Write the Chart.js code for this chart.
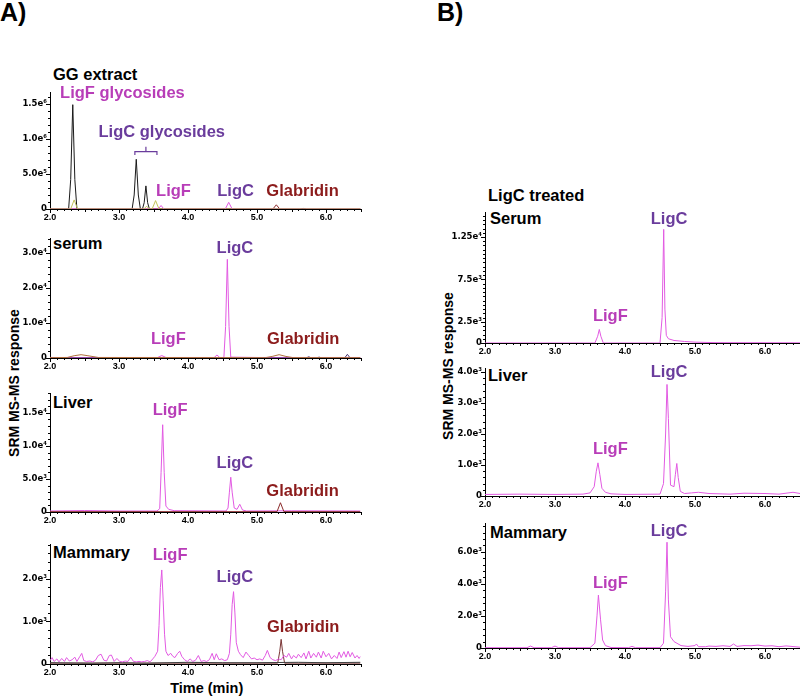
<!DOCTYPE html>
<html><head><meta charset="utf-8">
<script src="https://cdn.jsdelivr.net/npm/chart.js@4.4.1/dist/chart.umd.min.js"></script>
<style>
html,body{margin:0;padding:0;background:#fff;}
#wrap{position:relative;width:800px;height:696px;overflow:hidden;font-family:"Liberation Sans",Arial,sans-serif;}
canvas{position:absolute;}
.t{position:absolute;font-weight:bold;white-space:nowrap;line-height:1;transform:translateY(-50%);color:#000;font-size:16.5px;}
.rot{position:absolute;font-weight:bold;white-space:nowrap;line-height:1;transform:translate(-50%,-50%) rotate(-90deg);font-size:14px;}
.c{position:absolute;font-weight:bold;white-space:nowrap;line-height:1;transform:translate(-50%,-50%);font-size:14.5px;}
</style></head><body>
<div id="wrap">
  <div class="t" style="left:0px;top:12px;font-size:25px;">A)</div>
  <div class="t" style="left:437px;top:12px;font-size:25px;">B)</div>
  <div class="t" style="left:53px;top:74px;">GG extract</div>
  <div class="t" style="left:53px;top:243px;">serum</div>
  <div class="t" style="left:53px;top:401.5px;">Liver</div>
  <div class="t" style="left:53px;top:551.5px;">Mammary</div>
  <div class="t" style="left:488px;top:195px;">LigC treated</div>
  <div class="t" style="left:490px;top:218px;">Serum</div>
  <div class="t" style="left:488px;top:375px;">Liver</div>
  <div class="t" style="left:490px;top:531.5px;">Mammary</div>
  <div class="rot" style="left:14px;top:383px;">SRM MS-MS response</div>
  <div class="rot" style="left:448px;top:366px;">SRM MS-MS response</div>
  <div class="c" style="left:206.7px;top:688px;">Time (min)</div>
  <canvas id="a1"></canvas><canvas id="a2"></canvas><canvas id="a3"></canvas><canvas id="a4"></canvas>
  <canvas id="b1"></canvas><canvas id="b2"></canvas><canvas id="b3"></canvas>
</div>
<script>
// ---------- x axis ----------
const xTickValues = [2, 3, 4, 5, 6];

// ---------- A1: GG extract ----------
const a1BlackT = [2.00, 2.27, 2.30, 2.33, 2.36, 2.39, 3.19, 3.22, 3.25, 3.28, 3.31, 3.34, 3.365, 3.39, 3.415, 3.44, 5.62, 5.67, 5.72, 6.50];
const a1BlackV = [0, 0, 420000, 1490000, 420000, 0, 0, 200000, 710000, 200000, 0, 0, 90000, 330000, 90000, 0, 0, 8000, 0, 0];
const a1OliveT = [2.00, 2.30, 2.35, 2.40, 3.36, 3.40, 3.44, 3.48, 3.53, 3.58, 6.50];
const a1OliveV = [0, 0, 130000, 0, 0, 40000, 0, 0, 120000, 0, 0];
const a1MagT = [2.00, 3.57, 3.61, 3.65, 4.54, 4.59, 4.64, 6.50];
const a1MagV = [0, 0, 50000, 0, 0, 95000, 0, 0];
const a1RedT = [2.00, 5.23, 5.28, 5.33, 6.50];
const a1RedV = [0, 0, 60000, 0, 0];
const a1YTicks = [0, 500000, 1000000, 1500000];
const a1YLabels = ['0', '5.0e\u2075', '1.0e\u2076', '1.5e\u2076'];

// ---------- A2: serum ----------
const a2MagT = [2.00, 3.00, 3.56, 3.62, 3.68, 4.38, 4.42, 4.46, 4.52, 4.545, 4.57, 4.595, 4.62, 5.00, 6.50];
const a2MagV = [150, 150, 150, 700, 150, 150, 860, 150, 150, 9000, 28200, 9000, 250, 150, 150];
const a2BrownT = [2.00, 2.25, 2.35, 2.45, 2.55, 2.70, 5.12, 5.22, 5.32, 5.42, 5.52, 6.50];
const a2BrownV = [100, 150, 650, 950, 650, 150, 100, 450, 950, 450, 120, 100];
const a2PurpT = [2.00, 5.71, 5.75, 5.79, 5.86, 5.90, 5.94, 6.27, 6.31, 6.35, 6.50];
const a2PurpV = [0, 0, 350, 0, 0, 250, 0, 0, 1050, 0, 0];
const a2YTicks = [0, 10000, 20000, 30000];
const a2YLabels = ['0', '1.0e\u2074', '2.0e\u2074', '3.0e\u2074'];

// ---------- A3: Liver ----------
const a3MagT = [2.00, 2.50, 3.00, 3.55, 3.59, 3.61, 3.633, 3.655, 3.68, 3.72, 3.80, 4.55, 4.58, 4.60, 4.62, 4.64, 4.67, 4.71, 4.75, 4.79, 4.85, 5.50, 6.50];
const a3MagV = [150, 220, 150, 150, 500, 6000, 13200, 6000, 900, 400, 200, 150, 600, 3000, 5260, 3000, 600, 400, 1170, 300, 150, 180, 150];
const a3RedT = [2.00, 5.29, 5.34, 5.39, 6.50];
const a3RedV = [50, 50, 1400, 50, 50];
const a3YTicks = [0, 5000, 10000, 15000];
const a3YLabels = ['0', '5.0e\u00b3', '1.0e\u2074', '1.5e\u2074'];

// ---------- A4: Mammary ----------
const a4MagT = [2.00,2.03,2.06,2.10,2.13,2.17,2.21,2.24,2.28,2.32,2.36,2.39,2.43,2.46,2.49,2.53,2.58,2.62,2.66,2.70,2.74,2.78,2.82,2.86,2.89,2.93,2.97,3.01,3.05,3.09,3.13,3.17,3.21,3.25,3.29,3.33,3.37,3.41,3.45,3.49,3.52,3.56,3.58,3.60,3.62,3.64,3.66,3.68,3.71,3.75,3.78,3.81,3.85,3.88,3.91,3.95,3.99,4.03,4.07,4.11,4.15,4.19,4.23,4.27,4.31,4.35,4.38,4.41,4.45,4.49,4.53,4.57,4.60,4.62,4.64,4.66,4.68,4.70,4.73,4.76,4.80,4.84,4.88,4.92,4.96,5.00,5.04,5.08,5.12,5.15,5.19,5.23,5.27,5.31,5.35,5.39,5.43,5.46,5.50,5.53,5.57,5.60,5.64,5.68,5.71,5.75,5.78,5.82,5.86,5.89,5.93,5.96,6.00,6.04,6.08,6.12,6.16,6.19,6.22,6.26,6.29,6.32,6.35,6.38,6.42,6.45,6.48,6.50];
const a4MagV = [80,150,60,120,50,130,60,150,70,100,160,60,170,250,80,60,70,50,90,200,230,90,70,200,210,60,130,60,50,70,60,160,60,50,60,50,60,80,50,120,180,300,900,1800,2210,1500,700,300,200,250,180,150,250,300,180,100,60,120,60,90,200,60,80,60,100,250,100,240,100,120,80,100,250,700,1400,1700,1200,500,300,220,150,280,200,120,140,100,120,90,200,320,150,100,80,120,100,200,160,250,120,200,140,230,150,260,120,300,140,250,160,280,140,300,170,250,120,200,130,280,150,290,160,300,170,270,140,200,130,180];
const a4RedT = [2.00, 5.30, 5.33, 5.35, 5.37, 5.40, 6.50];
const a4RedV = [20, 20, 300, 580, 300, 20, 20];
const a4BlackT = [2.00, 2.60, 3.00, 3.40, 4.00, 4.50, 5.00, 5.60, 6.00, 6.50];
const a4BlackV = [30, 20, 30, 20, 40, 30, 30, 40, 30, 40];
const a4YTicks = [0, 1000, 2000];
const a4YLabels = ['0', '1.0e\u00b3', '2.0e\u00b3'];

// ---------- B1: LigC treated, Serum ----------
const b1MagT = [2.00, 3.57, 3.61, 3.633, 3.655, 3.69, 4.50, 4.53, 4.553, 4.57, 4.59, 4.62, 4.70, 4.85, 5.00, 5.30, 6.50];
const b1MagV = [0, 0, 800, 1600, 800, 0, 0, 3000, 13400, 4000, 900, 500, 300, 180, 100, 40, 20];
const b1YTicks = [0, 2500, 7500, 12500];
const b1YLabels = ['0', '2.5e\u00b3', '7.5e\u00b3', '1.25e\u2074'];

// ---------- B2: Liver ----------
const b2MagT = [2.00, 2.50, 3.00, 3.40, 3.50, 3.56, 3.59, 3.614, 3.64, 3.67, 3.72, 3.80, 4.00, 4.50, 4.55, 4.58, 4.60, 4.62, 4.65, 4.70, 4.72, 4.74, 4.76, 4.79, 4.85, 4.95, 5.05, 5.20, 5.50, 5.70, 6.00, 6.20, 6.40, 6.50];
const b2MagV = [50, 60, 50, 60, 100, 300, 800, 1070, 700, 250, 120, 70, 50, 60, 400, 2000, 3600, 2500, 350, 300, 700, 1050, 600, 150, 80, 100, 120, 80, 60, 90, 80, 60, 120, 80];
const b2YTicks = [0, 1000, 2000, 3000, 4000];
const b2YLabels = ['0', '1.0e\u00b3', '2.0e\u00b3', '3.0e\u00b3', '4.0e\u00b3'];

// ---------- B3: Mammary ----------
const b3MagT = [2.00, 2.60, 2.65, 2.70, 2.95, 3.00, 3.05, 3.50, 3.57, 3.60, 3.62, 3.65, 3.68, 3.72, 3.80, 4.05, 4.10, 4.15, 4.50, 4.55, 4.58, 4.60, 4.62, 4.65, 4.70, 4.80, 4.90, 5.00, 5.02, 5.05, 5.15, 5.20, 5.30, 5.40, 5.50, 5.55, 5.60, 5.70, 5.80, 5.90, 6.00, 6.10, 6.20, 6.30, 6.50];
const b3MagV = [20, 20, 120, 20, 20, 120, 20, 20, 300, 2000, 3300, 1800, 500, 150, 30, 20, 100, 20, 20, 300, 3500, 6600, 3000, 700, 400, 150, 100, 150, 250, 80, 80, 120, 100, 140, 100, 250, 100, 150, 140, 180, 120, 140, 80, 130, 50];
const b3YTicks = [0, 2000, 4000, 6000];
const b3YLabels = ['0', '2.0e\u00b3', '4.0e\u00b3', '6.0e\u00b3'];

// ---------- styles ----------
const FONT = '"Liberation Sans", Arial, sans-serif';
const TICKFONT = '"DejaVu Sans", "Liberation Sans", Arial, sans-serif';
const C_MAG = '#e25ae2', C_BLACK = '#1a1a1a', C_OLIVE = '#c2c25a', C_RED = '#8b2a2a', C_BROWN = '#b0703c', C_PURP = '#4a3470';
const L_F = '#b83db8', L_C = '#6a3c9c', L_G = '#8c1c1c';

const pts = (t, v) => t.map((x, i) => ({x: x, y: v[i]}));
const ds = (t, v, c) => ({data: pts(t, v), borderColor: c, borderWidth: 1, pointRadius: 0, fill: false, tension: 0});

const decor = {
  id: 'decor',
  afterDraw(chart, args, o) {
    const {ctx, chartArea: a, scales: {x, y}} = chart;
    ctx.save();
    ctx.strokeStyle = '#000'; ctx.lineWidth = 1;
    ctx.beginPath();
    for (let i = 0; i <= 45; i++) {
      const px = Math.round(x.getPixelForValue(2 + i * 0.1)) + 0.5;
      const len = (i % 10 === 0) ? 4 : (i % 5 === 0 ? 3 : 2);
      ctx.moveTo(px, a.bottom); ctx.lineTo(px, a.bottom + len);
    }
    for (let k = 0; k * o.yMinor <= y.max + 1e-6; k++) {
      const v = k * o.yMinor;
      const py = Math.round(y.getPixelForValue(v)) + 0.5;
      const major = o.yTicks.some(t => Math.abs(t - v) < 1e-6);
      ctx.moveTo(a.left, py); ctx.lineTo(a.left - (major ? 4 : 2), py);
    }
    ctx.stroke();
    if (o.bracket) {
      const b = o.bracket;
      ctx.strokeStyle = b.color; ctx.lineWidth = 1.2;
      const x1 = x.getPixelForValue(b.x1), x2 = x.getPixelForValue(b.x2), xm = x.getPixelForValue(b.xm);
      const yb = y.getPixelForValue(b.y), yd = y.getPixelForValue(b.drop), yt = y.getPixelForValue(b.top);
      ctx.beginPath();
      ctx.moveTo(x1, yd); ctx.lineTo(x1, yb); ctx.lineTo(x2, yb); ctx.lineTo(x2, yd);
      ctx.moveTo(xm, yb); ctx.lineTo(xm, yt);
      ctx.stroke();
    }
    ctx.font = 'bold 16.5px ' + FONT;
    ctx.textAlign = 'center'; ctx.textBaseline = 'middle';
    for (const l of o.labels) {
      ctx.fillStyle = l.color;
      ctx.fillText(l.text, x.getPixelForValue(l.x), y.getPixelForValue(l.y));
    }
    ctx.restore();
  }
};

function panel(id, g, datasets, yMax, yTicks, yLabels, yMinor, labels, bracket) {
  const cv = document.getElementById(id);
  const padTop = 24, xH = 22;
  const w = g.right - g.canvasLeft + g.padRight;
  const h = padTop + (g.bottom - g.top) + xH;
  cv.width = w; cv.height = h;
  cv.style.left = g.canvasLeft + 'px'; cv.style.top = (g.top - padTop) + 'px';
  cv.style.width = w + 'px'; cv.style.height = h + 'px';
  new Chart(cv, {
    type: 'line',
    data: {datasets: datasets},
    options: {
      responsive: false, animation: false, devicePixelRatio: 1,
      layout: {padding: {top: padTop, right: g.padRight, bottom: 0, left: 0}},
      plugins: {legend: {display: false}, tooltip: {enabled: false},
        decor: {yTicks: yTicks, yMinor: yMinor, labels: labels, bracket: bracket}},
      scales: {
        x: {type: 'linear', min: 2, max: 6.5,
          afterBuildTicks: s => { s.ticks = xTickValues.map(v => ({value: v})); },
          afterFit: s => { s.height = xH; },
          grid: {display: false, drawTicks: false},
          border: {display: true, color: '#000', width: 1},
          ticks: {autoSkip: false, maxRotation: 0, padding: 3.5, color: '#000',
            font: {family: FONT, size: 9, weight: 'bold'},
            callback: v => Number(v).toFixed(1)}},
        y: {type: 'linear', min: 0, max: yMax,
          afterBuildTicks: s => { s.ticks = yTicks.map(v => ({value: v})); },
          afterFit: s => { s.width = g.left - g.canvasLeft; },
          grid: {display: false, drawTicks: false},
          border: {display: true, color: '#000', width: 1},
          ticks: {autoSkip: false, padding: 3, color: '#000',
            font: {family: TICKFONT, size: 8.5, weight: 'bold'},
            callback: v => yLabels[yTicks.indexOf(v)]}}
      }
    },
    plugins: [decor]
  });
}

const GA = {canvasLeft: 0, left: 50, right: 360.5, padRight: 9.5};
const GB = {canvasLeft: 420, left: 485, right: 800, padRight: 0};

panel('a1', Object.assign({top: 92, bottom: 209}, GA),
  [ds(a1OliveT, a1OliveV, C_OLIVE), ds(a1MagT, a1MagV, C_MAG), ds(a1RedT, a1RedV, C_RED), ds(a1BlackT, a1BlackV, C_BLACK)],
  1671000, a1YTicks, a1YLabels, 100000,
  [{text: 'LigF glycosides', x: 3.05, y: 1650000, color: L_F},
   {text: 'LigC glycosides', x: 3.62, y: 1100000, color: L_C},
   {text: 'LigF', x: 3.79, y: 257000, color: L_F},
   {text: 'LigC', x: 4.69, y: 257000, color: L_C},
   {text: 'Glabridin', x: 5.66, y: 257000, color: L_G}],
  {x1: 3.23, x2: 3.55, xm: 3.39, y: 820000, drop: 770000, top: 890000, color: L_C});

panel('a2', Object.assign({top: 238, bottom: 358}, GA),
  [ds(a2BrownT, a2BrownV, C_BROWN), ds(a2PurpT, a2PurpV, C_PURP), ds(a2MagT, a2MagV, C_MAG)],
  34300, a2YTicks, a2YLabels, 2000,
  [{text: 'LigC', x: 4.68, y: 31300, color: L_C},
   {text: 'LigF', x: 3.715, y: 5400, color: L_F},
   {text: 'Glabridin', x: 5.67, y: 5400, color: L_G}]);

panel('a3', Object.assign({top: 393, bottom: 512}, GA),
  [ds(a3RedT, a3RedV, C_RED), ds(a3MagT, a3MagV, C_MAG)],
  18000, a3YTicks, a3YLabels, 1000,
  [{text: 'LigF', x: 3.74, y: 15350, color: L_F},
   {text: 'LigC', x: 4.68, y: 7400, color: L_C},
   {text: 'Glabridin', x: 5.66, y: 3100, color: L_G}]);

panel('a4', Object.assign({top: 544, bottom: 664}, GA),
  [ds(a4MagT, a4MagV, C_MAG), ds(a4BlackT, a4BlackV, '#404040'), ds(a4RedT, a4RedV, '#7a3535')],
  2820, a4YTicks, a4YLabels, 200,
  [{text: 'LigF', x: 3.74, y: 2540, color: L_F},
   {text: 'LigC', x: 4.68, y: 2040, color: L_C},
   {text: 'Glabridin', x: 5.67, y: 860, color: L_G}]);

panel('b1', Object.assign({top: 212, bottom: 343}, GB),
  [ds(b1MagT, b1MagV, C_MAG)],
  15450, b1YTicks, b1YLabels, 500,
  [{text: 'LigC', x: 4.63, y: 14600, color: L_C},
   {text: 'LigF', x: 3.79, y: 3100, color: L_F}]);

panel('b2', Object.assign({top: 368, bottom: 496}, GB),
  [ds(b2MagT, b2MagV, C_MAG)],
  4130, b2YTicks, b2YLabels, 200,
  [{text: 'LigC', x: 4.63, y: 4000, color: L_C},
   {text: 'LigF', x: 3.79, y: 1500, color: L_F}]);

panel('b3', Object.assign({top: 523, bottom: 648}, GB),
  [ds(b3MagT, b3MagV, C_MAG)],
  7800, b3YTicks, b3YLabels, 400,
  [{text: 'LigC', x: 4.63, y: 7270, color: L_C},
   {text: 'LigF', x: 3.79, y: 4040, color: L_F}]);
</script>
</body></html>
